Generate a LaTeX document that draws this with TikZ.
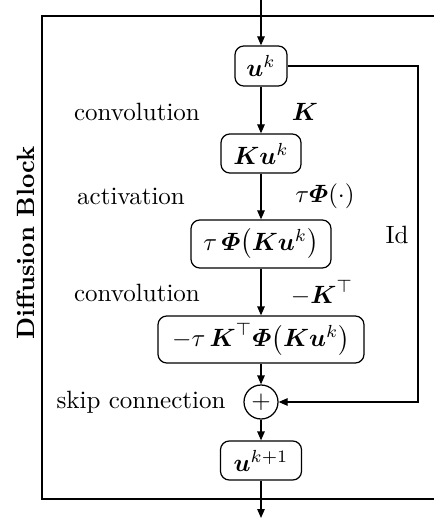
\documentclass[tikz,border=0pt]{standalone}
\usepackage{amsmath,amssymb}
\usetikzlibrary{arrows.meta}
\begin{document}
\begin{tikzpicture}[x=0.4pt,y=-0.4pt,
  line width=0.5pt,
  arr/.style={-{Triangle[length=3.6pt,width=3pt]}},
  blk/.style={draw,rounded corners=3.5pt,inner sep=1pt,align=center},
  lbl/.style={inner sep=0pt}]
\useasboundingbox (0,0) rectangle (433,518);
% outer block
\draw (440,16) -- (42,16) -- (42,499) -- (440,499);
\node[lbl,rotate=90,font=\bfseries] (title) at (26,243) {Diffusion Block};
% nodes
\node[blk,minimum width=20.8pt,minimum height=16pt] (u) at (261,66) {$\boldsymbol{u}^k$};
\node[blk,minimum width=32pt,minimum height=15.6pt] (ku) at (261,153.5) {$\boldsymbol{K}\boldsymbol{u}^k$};
\node[blk,minimum width=56pt,minimum height=19.2pt] (tp) at (261,244) {$\tau\,\boldsymbol{\varPhi}\big(\boldsymbol{K}\boldsymbol{u}^k\big)$};
\node[blk,minimum width=82.4pt,minimum height=18.8pt] (ktp) at (261,339.5) {$-\tau\,\boldsymbol{K}^\top\boldsymbol{\varPhi}\big(\boldsymbol{K}\boldsymbol{u}^k\big)$};
\node[draw,circle,minimum size=13.6pt,inner sep=0pt] (plus) at (261,402) {$+$};
\node[blk,minimum width=32.4pt,minimum height=15.6pt] (u1) at (261,460.5) {$\boldsymbol{u}^{k+1}$};
% labels
\node[lbl] (l1) at (137,112) {convolution};
\node[lbl] (m1) at (305,112) {$\boldsymbol{K}$};
\node[lbl] (l2) at (131,196) {activation};
\node[lbl] (m2) at (325,196) {$\tau\boldsymbol{\varPhi}(\cdot)$};
\node[lbl] (l3) at (137,293) {convolution};
\node[lbl] (m3) at (322,293) {$-\boldsymbol{K}^\top$};
\node[lbl] (l4) at (141,402) {skip connection};
\node[lbl] (id) at (397,235) {Id};
% connectors
\coordinate (top) at (261,0);
\coordinate (bot) at (261,518);
\coordinate (rc) at (418,402);
\draw[arr] (top) -- (u);
\draw[arr] (u) -- (ku);
\draw[arr] (ku) -- (tp);
\draw[arr] (tp) -- (ktp);
\draw[arr] (ktp) -- (plus);
\draw[arr] (plus) -- (u1);
\draw[arr] (u1) -- (bot);
\draw[arr] (u.east) -| (rc) -- (plus.east);
\end{tikzpicture}
\end{document}
